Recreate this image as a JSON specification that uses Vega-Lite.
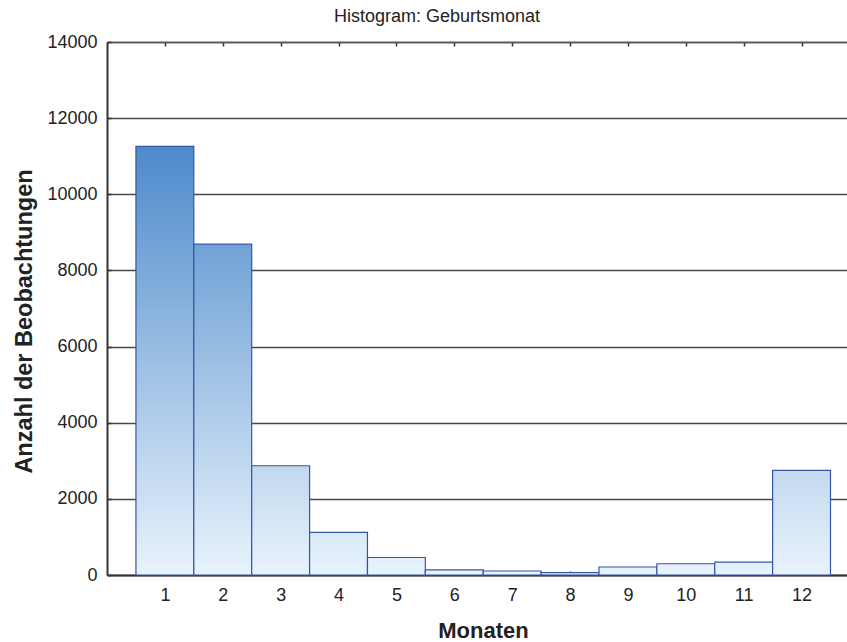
{
  "$schema": "https://vega.github.io/schema/vega-lite/v6.json",
  "width": 740,
  "height": 533,
  "autosize": {"type": "none"},
  "padding": {"left": 107, "top": 42, "right": 0, "bottom": 67},
  "background": "white",
  "config": {"view": {"stroke": null}, "font": "Liberation Sans"},
  "title": {"text": "Histogram: Geburtsmonat", "fontSize": 18, "fontWeight": "normal", "color": "#222222", "anchor": "middle", "dx": -40, "dy": 23, "baseline": "alphabetic", "offset": 16},
  "data": {
    "values": [
      {"Monat": 1, "von": 0.5, "bis": 1.5, "Anzahl": 11260},
      {"Monat": 2, "von": 1.5, "bis": 2.5, "Anzahl": 8690},
      {"Monat": 3, "von": 2.5, "bis": 3.5, "Anzahl": 2870},
      {"Monat": 4, "von": 3.5, "bis": 4.5, "Anzahl": 1120},
      {"Monat": 5, "von": 4.5, "bis": 5.5, "Anzahl": 460},
      {"Monat": 6, "von": 5.5, "bis": 6.5, "Anzahl": 135},
      {"Monat": 7, "von": 6.5, "bis": 7.5, "Anzahl": 105},
      {"Monat": 8, "von": 7.5, "bis": 8.5, "Anzahl": 60},
      {"Monat": 9, "von": 8.5, "bis": 9.5, "Anzahl": 210},
      {"Monat": 10, "von": 9.5, "bis": 10.5, "Anzahl": 295},
      {"Monat": 11, "von": 10.5, "bis": 11.5, "Anzahl": 336},
      {"Monat": 12, "von": 11.5, "bis": 12.5, "Anzahl": 2750}
    ]
  },
  "layer": [
    {
      "mark": {
        "type": "bar",
        "stroke": "#3556a8",
        "strokeWidth": 1.2,
        "fill": {"expr": "{gradient: 'linear', x1: 0, y1: 1, x2: 0, y2: 0, stops: [{offset: 0, color: 'rgb(232,243,252)'}, {offset: 1, color: 'rgb(' + round(232 - 191 * datum.Anzahl / 14000) + ',' + round(243 - 131 * datum.Anzahl / 14000) + ',' + round(252 - 61 * datum.Anzahl / 14000) + ')'}]}"}
      },
      "encoding": {
        "x": {
          "field": "von", "type": "quantitative",
          "scale": {"domain": [0, 12.785], "nice": false, "zero": false},
          "axis": {
            "orient": "bottom",
            "values": [1, 2, 3, 4, 5, 6, 7, 8, 9, 10, 11, 12],
            "format": "d",
            "title": "Monaten",
            "titleFontSize": 22, "titleFontWeight": "bold", "titleColor": "#222222",
            "titleX": 376, "titleY": 62, "titleBaseline": "alphabetic", "titleAlign": "center",
            "labelFontSize": 18, "labelColor": "#222222", "labelPadding": 15, "labelFlush": false,
            "tickSize": -4, "tickColor": "#333333", "tickWidth": 1.5,
            "domainColor": "#333333", "domainWidth": 2, "grid": false
          }
        },
        "x2": {"field": "bis"},
        "y": {
          "field": "Anzahl", "type": "quantitative",
          "scale": {"domain": [0, 14000], "nice": false},
          "axis": {
            "values": [0, 2000, 4000, 6000, 8000, 10000, 12000, 14000],
            "format": "d",
            "title": "Anzahl der Beobachtungen",
            "titleFontSize": 23.5, "titleFontWeight": "bold", "titleColor": "#222222",
            "titleX": -76, "titleY": 279, "titleBaseline": "alphabetic", "titleAlign": "center", "titleAngle": 270,
            "labelFontSize": 18, "labelColor": "#222222", "labelPadding": 14, "labelFlush": false,
            "tickSize": -4, "tickColor": "#333333", "tickWidth": 1.5,
            "domainColor": "#333333", "domainWidth": 2,
            "grid": true, "gridColor": "#484848", "gridWidth": 1.4
          }
        },
        "y2": {"datum": 0}
      }
    },
    {
      "mark": {"type": "tick", "opacity": 0},
      "encoding": {
        "x": {
          "field": "Monat", "type": "quantitative",
          "axis": {
            "orient": "top",
            "values": [1, 2, 3, 4, 5, 6, 7, 8, 9, 10, 11, 12],
            "labels": false, "title": null,
            "tickSize": -4, "tickColor": "#333333", "tickWidth": 1.5,
            "domainColor": "#555555", "domainWidth": 1.5, "grid": false
          }
        }
      }
    }
  ],
  "resolve": {"axis": {"x": "independent"}}
}
